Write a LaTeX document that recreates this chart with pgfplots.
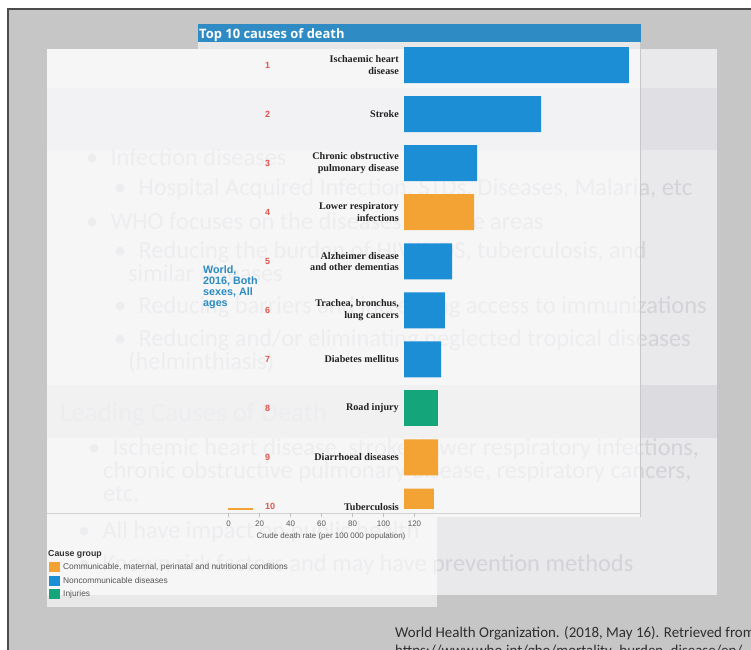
\documentclass[border=0pt]{standalone}
\usepackage{pgfplots}
\pgfplotsset{compat=1.18}
\usepackage{fontspec}
\setmainfont{Liberation Sans}
\newfontfamily\serifb{Liberation Serif}
\newfontfamily\calibri{Carlito}
\newfontfamily\osans{Open Sans}
\definecolor{bgout}{HTML}{C6C6C6}
\definecolor{slide}{HTML}{E9E9EC}
\definecolor{bandA}{HTML}{E0E0E4}
\definecolor{band}{HTML}{DCDCE0}
\definecolor{faint}{HTML}{D3D3D8}
\definecolor{ncd}{HTML}{1B8ED6}
\definecolor{cmd}{HTML}{F2A333}
\definecolor{inj}{HTML}{14A57B}
\definecolor{titlebar}{HTML}{2E8BC3}
\definecolor{rankred}{HTML}{E0544E}
\definecolor{worldblue}{HTML}{2B8BC0}
\definecolor{labeltxt}{HTML}{222222}
\definecolor{ticktxt}{HTML}{5A5A5A}
\definecolor{legtxt}{HTML}{555555}
\begin{document}
\begin{tikzpicture}
\useasboundingbox (0bp,0bp) rectangle (751bp,-650bp);
\begin{scope}[x=1bp,y=-1bp]
\fill[white] (0,0) rectangle (751,650);
\fill[bgout] (8,9) rectangle (751,650);
\draw[black!70, line width=1.2bp] (8,650) -- (8,9) -- (751,9);
\fill[slide] (47,49) rectangle (717,595);
\fill[bandA] (47,88) rectangle (717,150);
\fill[band] (47,385) rectangle (717,438);
\begin{scope}[every node/.style={anchor=base west, inner sep=0pt, text=faint, font=\calibri\fontsize{24.5}{26}\selectfont}]
\node at (86,165) {\textbullet\enspace Infection diseases};
\node at (114,195) {\textbullet\enspace Hospital Acquired Infection, STDs, Diseases, Malaria, etc};
\node at (86,229) {\textbullet\enspace WHO focuses on the diseases in three areas};
\node at (114,258) {\textbullet\enspace Reducing the burden of HIV/AIDS, tuberculosis, and};
\node at (128,281) {similar diseases};
\node at (114,313) {\textbullet\enspace Reducing barriers and increasing access to immunizations};
\node at (114,346) {\textbullet\enspace Reducing and/or eliminating neglected tropical diseases};
\node at (128,369) {(helminthiasis)};
\node[font=\calibri\fontsize{27}{29}\selectfont] at (60,421) {Leading Causes of Death};
\node at (88,455) {\textbullet\enspace Ischemic heart disease, stroke, lower respiratory infections,};
\node at (103,478) {chronic obstructive pulmonary disease, respiratory cancers,};
\node at (103,501) {etc.};
\node at (78,538) {\textbullet\enspace All have impact on public health};
\node at (78,571) {\textbullet\enspace Known risk factors and may have prevention methods};
\end{scope}
% chart card (semi-transparent)
\fill[white, opacity=0.6] (198,42) rectangle (640,517);
\fill[white, opacity=0.6] (47,49) rectangle (198,517);
\draw[black!22, line width=0.6bp] (640,42) -- (640,517);
\fill[titlebar] (198,24) rectangle (641,42);
\node[anchor=base west, inner sep=0pt, text=white, font=\osans\bfseries\fontsize{13}{15}\selectfont] at (199,38) {Top 10 causes of death};
% legend panel
\fill[white, opacity=0.6] (47,517) rectangle (437,607);
\draw[black!18, line width=0.6bp] (47,513.5) -- (640,513.5);
\draw[cmd, line width=1.4bp] (228,509) -- (253,509);
% world text
\begin{scope}[every node/.style={anchor=base west, inner sep=0pt, text=worldblue, font=\bfseries\fontsize{10.8}{11}\selectfont}]
\node at (203,273.5) {World,};
\node at (203,284.5) {2016, Both};
\node at (203,295.5) {sexes, All};
\node at (203,306.5) {ages};
\end{scope}
% rank numbers
\begin{scope}[every node/.style={anchor=west, inner sep=0pt, text=rankred, font=\bfseries\fontsize{9}{11}\selectfont}]
\node at (265,65) {1};
\node at (265,114.06) {2};
\node at (265,163.12) {3};
\node at (265,212.18) {4};
\node at (265,261.24) {5};
\node at (265,310.3) {6};
\node at (265,359.36) {7};
\node at (265,408.42) {8};
\node at (265,457.48) {9};
\node at (265,506.54) {10};
\end{scope}
% legend
\node[anchor=base west, inner sep=0pt, text=black!80, font=\bfseries\fontsize{8.8}{10}\selectfont] at (48,556) {Cause group};
\fill[cmd] (49,562) rectangle (59.5,572);
\fill[ncd] (49,575.5) rectangle (59.5,585.5);
\fill[inj] (49,589) rectangle (59.5,599);
\begin{scope}[every node/.style={anchor=west, inner sep=0pt, text=legtxt, font=\fontsize{8.4}{9}\selectfont}]
\node at (63,567) {Communicable, maternal, perinatal and nutritional conditions};
\node at (63,580.5) {Noncommunicable diseases};
\node at (63,594) {Injuries};
\end{scope}
% citation
\begin{scope}[every node/.style={anchor=base west, inner sep=0pt, text=black!82, font=\calibri\fontsize{15}{17}\selectfont}]
\node at (395,637) {World Health Organization. (2018, May 16). Retrieved from};
\node at (395,655) {https://www.who.int/gho/mortality\_burden\_disease/en/};
\end{scope}
\end{scope}

% main bar axis
\begin{axis}[
  at={(404bp,-508bp)}, anchor=south west,
  scale only axis, width=235.8bp, height=467.5bp,
  xbar, bar width=36bp,
  xmin=0, xmax=133, ymin=0.5, ymax=10.03, y dir=reverse,
  axis line style={draw=none}, tick style={draw=none},
  major tick length=0pt,
  xtick=\empty, ytick={1,...,10},
  yticklabels={{Ischaemic heart\\disease},{Stroke},{Chronic obstructive\\pulmonary disease},{Lower respiratory\\infections},{Alzheimer disease\\and other dementias},{Trachea, bronchus,\\lung cancers},{Diabetes mellitus},{Road injury},{Diarrhoeal diseases},{Tuberculosis}},
  yticklabel style={font=\serifb\bfseries\fontsize{10.2}{11.5}\selectfont, align=right, text=labeltxt, inner xsep=0pt, xshift=-5bp},
]
\addplot[fill=ncd, draw=none, bar shift=0pt] coordinates {(126.9,1) (77.3,2) (41.2,3) (27.1,5) (23.1,6) (20.9,7)};
\addplot[fill=cmd, draw=none, bar shift=0pt] coordinates {(39.5,4) (19.2,9) (16.9,10)};
\addplot[fill=inj, draw=none, bar shift=0pt] coordinates {(19.2,8)};
\end{axis}

% tick axis
\begin{axis}[
  at={(228.5bp,-513bp)}, anchor=south west,
  scale only axis, width=186bp, height=1bp,
  xmin=0, xmax=120, ymin=0, ymax=1,
  axis x line*=bottom, axis y line=none,
  x axis line style={draw=none},
  xtick={0,20,...,120}, tick align=outside, major tick length=4bp,
  xtick style={draw=black!25},
  /pgf/number format/assume math mode=true,
  xticklabel style={font=\fontsize{8}{9}\selectfont, text=ticktxt},
  xlabel={Crude death rate (per 100 000 population)},
  xlabel style={at={(axis description cs:0.551,0)}, anchor=base, yshift=-25bp, font=\fontsize{8}{9}\selectfont, text=ticktxt},
]
\end{axis}
\end{tikzpicture}
\end{document}
